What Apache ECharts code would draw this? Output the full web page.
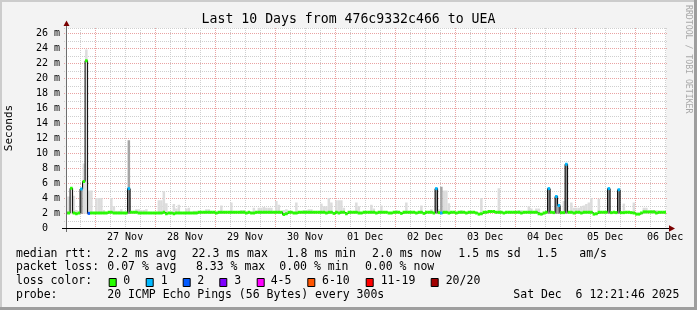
<!DOCTYPE html>
<html><head><meta charset="utf-8">
<script src="https://cdn.jsdelivr.net/npm/echarts@6/dist/echarts.min.js"></script>
<style>html,body{margin:0;padding:0;background:#f3f3f3}#c{width:697px;height:310px}</style>
</head><body><div id="c"></div>
<script>
// ---------------- data ----------------
const H = 3600000, DAY = 86400000;
const startTime = Date.UTC(2025,10,26,12,21,46);
const endTime   = Date.UTC(2025,11,6,12,21,46);
const bucket0   = Date.UTC(2025,10,26,12,0,0);   // hourly buckets
const yMax = 26.667;

// median rtt (ms) per hourly bucket
const median = [2.0,
 2.0,5.3,2.0,1.9,2.0,5.2,6.2,22.3,1.95,2.0,
 2.0,2.0,2.0,2.0,2.0,2.0,2.1,2.1,2.0,2.0,
 2.0,2.0,2.0,2.0,5.25,2.1,2.1,2.1,2.0,2.0,
 2.0,2.0,2.0,2.0,2.0,2.0,2.0,2.0,2.1,1.9,
 2.0,2.0,1.9,2.0,2.0,2.0,2.0,2.0,2.0,2.0,
 2.0,2.0,2.1,2.1,2.1,2.1,2.1,2.1,2.1,2.0,
 2.1,2.1,2.1,2.1,2.1,2.1,2.1,2.1,2.1,2.1,
 2.1,2.0,2.1,2.0,2.0,2.1,2.1,2.1,2.1,2.1,
 2.1,2.1,2.1,2.1,2.1,2.1,1.8,1.9,2.1,2.1,
 2.0,2.0,2.1,2.1,2.1,2.1,2.1,2.1,2.1,2.1,
 2.1,2.1,2.1,2.0,2.1,2.1,1.95,2.1,2.0,2.1,
 2.1,1.9,2.1,2.1,2.1,2.1,2.0,2.0,2.1,2.1,
 2.1,2.1,2.1,2.0,2.1,2.1,2.1,2.1,2.0,2.0,
 2.1,2.1,2.1,1.95,2.1,2.1,2.1,2.1,2.1,2.0,
 2.1,2.1,1.95,2.1,2.1,2.1,2.0,5.25,2.05,2.0,
 2.1,2.1,2.0,2.1,2.1,2.0,2.1,2.1,2.1,2.0,
 2.1,2.1,2.1,2.0,1.85,1.9,2.1,2.1,2.2,2.2,
 2.2,2.1,2.1,2.1,2.0,2.1,2.1,2.1,2.1,2.1,
 2.1,2.0,2.1,2.1,2.1,2.1,2.1,2.1,1.9,1.85,
 2.0,2.1,5.25,2.1,2.05,4.2,3.0,2.05,2.05,8.5,
 2.1,2.1,2.0,2.1,2.1,2.0,2.1,2.1,2.1,2.1,
 1.85,1.9,2.1,2.1,2.1,2.1,5.25,2.05,2.1,2.05,
 5.1,2.05,2.05,2.1,2.1,2.05,2.0,1.85,1.85,2.0,
 2.15,2.15,2.15,2.15,2.15,2.0,2.1,2.1,2.1,2.1];

// packet loss (pings lost of 20) where non-zero
const lossBuckets = [6,9,25,148,150,193,196,197,200,217,221];
const lossCounts  = [1,2,1,1,1,1,1,1,1,1,1];

// light smoke: highest ping per bucket (ms) where visible
const smokeBuckets = [0,1,2,3,4,7,8,9,10,12,13,14,15,18,19,20,21,22,28,29,30,31,32,37,38,39,40,43,44,45,48,49,51,52,56,57,62,66,70,71,75,77,78,79,80,81,82,84,85,87,88,92,95,96,97,98,102,103,104,105,106,108,109,110,111,116,117,122,123,126,132,136,142,146,149,151,152,153,158,166,173,181,182,185,186,188,189,199,202,203,204,205,206,207,208,209,210,213,223,227,231,232,234,235,236];
const smokeTops    = [4.2,4.2,5.3,4.3,2.4,8.6,23.8,5.0,5.0,4.0,4.0,4.0,2.4,4.0,2.9,2.3,2.3,2.5,2.5,2.5,2.4,2.4,2.5,3.7,3.7,4.9,3.3,3.2,2.6,3.1,2.6,2.7,2.3,2.3,2.5,2.5,3.0,3.4,2.4,2.4,2.7,2.7,2.7,2.8,2.7,2.7,2.7,3.6,3.1,2.4,2.5,3.4,2.4,2.4,2.5,2.5,3.25,2.9,2.9,4.0,3.4,3.7,3.7,3.7,2.7,3.4,2.9,3.1,2.6,3.0,2.4,3.4,3.0,2.5,2.5,5.0,5.0,3.3,2.4,4.0,5.3,2.4,2.4,2.9,2.6,2.6,2.6,3.6,3.4,2.7,2.7,2.7,2.9,3.0,3.2,3.4,4.0,3.9,3.25,3.4,2.7,2.7,2.4,2.4,2.4];
// medium smoke
const midBuckets = [25,150];
const midTops    = [11.7,5.5];
// dense smoke inside spikes
const darkBuckets = [6,25,148,193,196,197,200,217,221];
const darkTops    = [5.2,5.25,5.25,5.25,4.2,3.0,8.5,5.25,5.1];
const smokeLow = 1.9;

const dayLabels = ['27 Nov','28 Nov','29 Nov','30 Nov','01 Dec','02 Dec','03 Dec','04 Dec','05 Dec','06 Dec'];
const firstLabelNoon = Date.UTC(2025,10,27,12,0,0);
const firstGridLine = Date.UTC(2025,10,26,18,0,0);

const title = 'Last 10 Days from 476c9332c466 to UEA';
const rttStats  = ['median rtt:','2.2 ms avg','22.3 ms max','1.8 ms min','2.0 ms now','1.5 ms sd','1.5','am/s'];
const lossStats = ['packet loss:','0.07 % avg','8.33 % max','0.00 % min','0.00 % now'];
const lossLabels = ['0','1','2','3','4-5','6-10','11-19','20/20'];
const lossColors = ['#26ff00','#00b8ff','#0059ff','#7e00ff','#ff00ff','#ff5500','#ff0000','#a10000'];
const probeText = ['probe:','20 ICMP Echo Pings (56 Bytes) every 300s','Sat Dec  6 12:21:46 2025'];
const credit = 'RRDTOOL / TOBI OETIKER';

// ---------------- build ----------------
const FONT = '"DejaVu Sans Mono"';
function bt(k){ return Math.min(Math.max(bucket0 + k*H, startTime), endTime); }
function lossIndex(n){ if(n<=3) return n; if(n<=5) return 4; if(n<=10) return 5; if(n<=19) return 6; return 7; }

const lossOf = median.map(()=>0);
lossBuckets.forEach((b,i)=>{ lossOf[b] = lossCounts[i]; });

const segData = median.map((v,k)=>[bt(k), bt(k+1), v, lossIndex(lossOf[k])]);
const lineData = median.map((v,k)=>[bt(k), v]);
lineData.push([endTime, median[median.length-1]]);

const smokeData = smokeBuckets.map((b,i)=>[bt(b), bt(b+1), smokeLow, smokeTops[i]]);
const midData   = midBuckets.map((b,i)=>[bt(b), bt(b+1), smokeLow, midTops[i]]);
const darkData  = darkBuckets.map((b,i)=>[bt(b), bt(b+1), smokeLow, darkTops[i]]);

const vGrid = [];
for (let t = firstGridLine; t < endTime; t += 6*H) vGrid.push([t, 0, new Date(t).getUTCHours()===0 ? 1 : 0]);
const hGrid = [];
for (let v = 1; v <= 26; v++) hGrid.push([startTime, v, v%2===0 ? 1 : 0]);
hGrid.push([startTime, yMax, 0]);

const labelData = dayLabels.map((s,i)=>[firstLabelNoon + i*DAY, 0]);

const MAJOR = '#e9a3a3', MINOR = '#cfcfcf';

function rectItem(color){
  return function(params, api){
    const p0 = api.coord([api.value(0), api.value(3)]);
    const p1 = api.coord([api.value(1), api.value(2)]);
    return {type:'rect', shape:{x:p0[0], y:p0[1], width:p1[0]-p0[0], height:p1[1]-p0[1]}, style:{fill:color}};
  };
}

const chart = echarts.init(document.getElementById('c'), null, {renderer:'canvas'});

// legend graphics
const g = [];
const rowY = [253.8, 267.5, 281.2, 294.9];
const rttX = [16,107.3,191.7,286.7,372,458.3,536.7,579.3];
const lossX = [16,107.3,196,279.3,365];
const boxX = [108.7,145.7,182.7,219.3,256.7,307.3,365.7,430.7];
const boxLabelX = [123.3,160.7,197.3,234.3,270.7,322,380.7,445.7];
const probeX = [16,107.3,513.3];
function txt(s, x, y, size, extra){
  return Object.assign({type:'text', x:x, y:y, silent:true, style:{text:s, font:size+'px '+FONT, fill:'#000',
    textAlign:'left', textVerticalAlign:'middle', align:'left', verticalAlign:'middle'}}, extra||{});
}
rttStats.forEach((s,i)=>g.push(txt(s, rttX[i], rowY[0], 11.5)));
lossStats.forEach((s,i)=>g.push(txt(s, lossX[i], rowY[1], 11.5)));
g.push(txt('loss color:', 16, rowY[2], 11.5));
lossLabels.forEach((s,i)=>{
  g.push({type:'rect', silent:true, shape:{x:boxX[i]+0.5, y:278.5, width:7, height:8}, style:{fill:lossColors[i], stroke:'#000', lineWidth:1}});
  g.push(txt(s, boxLabelX[i], rowY[2], 11.5));
});
probeText.forEach((s,i)=>g.push(txt(s, probeX[i], rowY[3], 11.5)));
// title
g.push({type:'text', x:348.5, y:19.2, silent:true, style:{text:title, font:'13.2px '+FONT, fill:'#000', textAlign:'center', align:'center', textVerticalAlign:'middle', verticalAlign:'middle'}});
// credit
g.push({type:'text', x:688, y:5, rotation:-Math.PI/2, silent:true, style:{text:credit, font:'8.2px '+FONT, fill:'#a8a8a8', textAlign:'left', align:'left', textVerticalAlign:'middle', verticalAlign:'middle'}});
// frame
g.push({type:'rect', silent:true, shape:{x:0,y:0,width:697,height:2}, style:{fill:'#cccccc'}});
g.push({type:'rect', silent:true, shape:{x:0,y:0,width:2,height:310}, style:{fill:'#cccccc'}});
g.push({type:'rect', silent:true, shape:{x:0,y:307,width:697,height:3}, style:{fill:'#9e9e9e'}});
g.push({type:'rect', silent:true, shape:{x:694,y:0,width:3,height:310}, style:{fill:'#9e9e9e'}});
// axes
g.push({type:'line', silent:true, z:50, shape:{x1:66.5,y1:232,x2:66.5,y2:25}, style:{stroke:'#6e6e6e', lineWidth:1}});
g.push({type:'line', silent:true, z:50, shape:{x1:62,y1:228.5,x2:670,y2:228.5}, style:{stroke:'#000', lineWidth:1}});
g.push({type:'polygon', silent:true, z:50, shape:{points:[[63.5,26],[69.5,26],[66.5,20.5]]}, style:{fill:'#7a0000'}});
g.push({type:'polygon', silent:true, z:50, shape:{points:[[669,225.3],[669,231.7],[675,228.5]]}, style:{fill:'#7a0000'}});

const option = {
  animation:false,
  backgroundColor:'#f3f3f3',
  grid:{left:66, top:28, width:600, height:200, show:true, backgroundColor:'#ffffff', borderWidth:0,
        containLabel:false, outerBoundsMode:'none'},
  xAxis:{type:'value', min:startTime, max:endTime, axisLabel:{show:false}, axisLine:{show:false}, axisTick:{show:false}, splitLine:{show:false}},
  yAxis:{type:'value', min:0, max:yMax, interval:2,
    axisLine:{show:false}, axisTick:{show:false}, splitLine:{show:false},
    axisLabel:{margin:6, fontFamily:'DejaVu Sans Mono', fontSize:10, color:'#000', showMaxLabel:false,
      formatter:function(v){ if (Math.abs(v-Math.round(v))>1e-6 || v>26) return ''; return v===0 ? '0  ' : v+' m'; }},
    name:'Seconds', nameLocation:'middle', nameRotate:90, nameGap:51,
    nameTextStyle:{fontFamily:'DejaVu Sans Mono', fontSize:11, color:'#000'}},
  graphic:{elements:g},
  series:[
    {type:'custom', z:1, silent:true, data:vGrid, encode:{x:0,y:1},
      renderItem:function(params, api){
        const cs = params.coordSys; const x = Math.floor(api.coord([api.value(0),0])[0])+0.5;
        return {type:'line', shape:{x1:x, y1:cs.y, x2:x, y2:cs.y+cs.height+2},
          style:{stroke: api.value(2) ? MAJOR : MINOR, lineWidth:1, lineDash:[1,1]}};
      }},
    {type:'custom', z:1, silent:true, data:hGrid, encode:{x:0,y:1},
      renderItem:function(params, api){
        const cs = params.coordSys; const y = Math.round(api.coord([api.value(0),api.value(1)])[1])+0.5;
        return {type:'line', shape:{x1:cs.x-2, y1:y, x2:cs.x+cs.width+2, y2:y},
          style:{stroke: api.value(2) ? MAJOR : MINOR, lineWidth:1, lineDash:[1,1]}};
      }},
    {type:'custom', z:2, silent:true, data:smokeData, encode:{x:[0,1], y:[2,3]}, renderItem:rectItem('#dcdcdc')},
    {type:'custom', z:2, silent:true, data:midData, encode:{x:[0,1], y:[2,3]}, renderItem:rectItem('#a4a4a4')},
    {type:'custom', z:2, silent:true, data:darkData, encode:{x:[0,1], y:[2,3]}, renderItem:rectItem('#8a8a8a')},
    {type:'line', z:3, silent:true, data:lineData, step:'end', showSymbol:false, symbol:'none', clip:true,
      lineStyle:{color:'#000', width:1}},
    {type:'custom', z:4, silent:true, data:segData, encode:{x:[0,1], y:2},
      renderItem:function(params, api){
        const p0 = api.coord([api.value(0), api.value(2)]);
        const p1 = api.coord([api.value(1), api.value(2)]);
        return {type:'line', shape:{x1:p0[0], y1:p0[1], x2:p1[0], y2:p1[1]},
          style:{stroke: lossColors[api.value(3)], lineWidth:3, lineCap:'butt'}};
      }},
    {type:'custom', z:5, silent:true, data:labelData, encode:{x:0,y:1},
      renderItem:function(params, api){
        const p = api.coord([api.value(0), 0]);
        return {type:'text', x:p[0], y:p[1]+9.5, style:{text:dayLabels[params.dataIndex], font:'10px '+FONT, fill:'#000',
          textAlign:'center', align:'center', textVerticalAlign:'middle', verticalAlign:'middle'}};
      }}
  ]
};
chart.setOption(option);
</script></body></html>
